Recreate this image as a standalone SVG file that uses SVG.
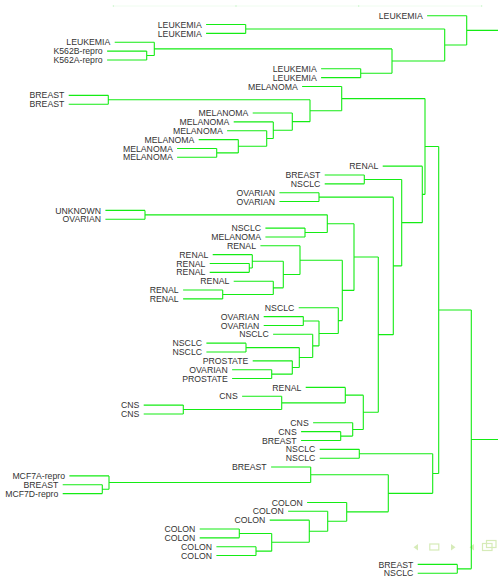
<svg xmlns="http://www.w3.org/2000/svg" width="498" height="576" viewBox="0 0 498 576">
<style>
text{font-family:"Liberation Sans",Arial,sans-serif;font-size:8.7px;fill:#333;text-anchor:end}
.c path{fill:none;stroke:#14ec14;stroke-width:1.1}
.nav{fill:none;stroke:#d6ebb8;stroke-width:1.2}
.navf{fill:#d6ebb8}
</style>
<rect width="498" height="576" fill="#fff"/>
<g id="topbar">
<line x1="113.3" y1="6" x2="481.7" y2="6" stroke="#effcef" stroke-width="1"/>
<rect x="112.8" y="5.5" width="1" height="1" fill="#a8f0a8"/>
<rect x="235.5" y="5.5" width="1" height="1" fill="#a8f0a8"/>
<rect x="358.2" y="5.5" width="1" height="1" fill="#a8f0a8"/>
<rect x="481.2" y="5.5" width="1" height="1" fill="#a8f0a8"/>
</g>
<g id="navigation">
<polygon class="navf" points="418,544 413.5,547.3 418,550.6"/>
<rect class="nav" x="429.8" y="544" width="9" height="6"/>
<polygon class="navf" points="451,544 455.5,547.3 451,550.6"/>
<polygon class="navf" points="474,544 469.5,547.3 474,550.6"/>
<rect class="nav" x="486.5" y="540.5" width="9.5" height="7"/>
<rect class="nav" x="482.5" y="543.5" width="9.5" height="7" fill="#fff"/>
</g>
<g id="connectors" class="c">
<path d="M427.1 15.7H466.7M206.1 24.55H245.7M206.1 33.4H245.7M114.7 42.25H154.3M107.1 51.1H146.7M107.1 59.95H146.7M321.1 68.8H360.7M321.1 77.65H360.7M302.1 86.5H341.7M68.7 95.35H108.3M68.7 104.2H108.3M252.7 113.05H292.3M233.7 121.9H273.3M227.1 130.75H266.7M198.7 139.6H238.3M177.1 148.45H216.7M177.1 157.3H216.7M382.7 166.15H422.3M324.7 175H364.3M324.7 183.85H364.3M279.4 192.7H319M279.4 201.55H319M105.4 210.4H145M105.4 219.25H145M265.4 228.1H305M265.4 236.95H305M260.4 245.8H300M212.7 254.65H252.3M209.7 263.5H249.3M209.7 272.35H249.3M233.7 281.2H273.3M183.1 290.05H222.7M183.1 298.9H222.7M298.7 307.75H338.3M263.7 316.6H303.3M263.7 325.45H303.3M273.1 334.3H312.7M206.4 343.15H246M206.4 352H246M252.7 360.85H292.3M232.1 369.7H271.7M232.1 378.55H271.7M305.7 387.4H345.3M242.1 396.25H281.7M143.7 405.1H183.3M143.7 413.95H183.3M313.1 422.8H352.7M301.1 431.65H340.7M301.1 440.5H340.7M319.7 449.35H359.3M319.7 458.2H359.3M271.1 467.05H310.7M69.4 475.9H109M62.7 484.75H102.3M62.7 493.6H102.3M307.1 502.45H346.7M288.1 511.3H327.7M269.7 520.15H309.3M199.7 529H239.3M199.7 537.85H239.3M216.4 546.7H256M216.4 555.55H256M417.7 564.4H457.3M417.7 573.25H457.3"/>
<path d="M245.7 24.55V33.4M245.7 28.98H444.7"/>
<path d="M146.7 51.1V59.95M146.7 55.53H154.3"/>
<path d="M154.3 42.25V55.53M154.3 48.89H392"/>
<path d="M360.7 68.8V77.65M360.7 73.23H392"/>
<path d="M392 48.89V73.23M392 61.06H444.7"/>
<path d="M444.7 28.98V61.06M444.7 45.02H466.7"/>
<path d="M466.7 15.7V45.02M466.7 30.36H498"/>
<path d="M108.3 95.35V104.2M108.3 99.78H310"/>
<path d="M216.7 148.45V157.3M216.7 152.88H238.3"/>
<path d="M238.3 139.6V152.88M238.3 146.24H266.7"/>
<path d="M266.7 130.75V146.24M266.7 138.5H273.3"/>
<path d="M273.3 121.9V138.5M273.3 130.2H292.3"/>
<path d="M292.3 113.05V130.2M292.3 121.63H310"/>
<path d="M310 99.78V121.63M310 110.7H341.7"/>
<path d="M341.7 86.5V110.7M341.7 98.6H425"/>
<path d="M364.3 175V183.85M364.3 179.43H401.7"/>
<path d="M319 192.7V201.55M319 197.13H393.3"/>
<path d="M145 210.4V219.25M145 214.83H327.3"/>
<path d="M305 228.1V236.95M305 232.53H327.3"/>
<path d="M327.3 214.83V232.53M327.3 223.68H354"/>
<path d="M249.3 263.5V272.35M249.3 267.93H252.3"/>
<path d="M252.3 254.65V267.93M252.3 261.29H283.3"/>
<path d="M222.7 290.05V298.9M222.7 294.48H273.3"/>
<path d="M273.3 281.2V294.48M273.3 287.84H283.3"/>
<path d="M283.3 261.29V287.84M283.3 274.57H300"/>
<path d="M300 245.8V274.57M300 260.18H342.3"/>
<path d="M303.3 316.6V325.45M303.3 321.03H319"/>
<path d="M246 343.15V352M246 347.58H299.3"/>
<path d="M271.7 369.7V378.55M271.7 374.13H292.3"/>
<path d="M292.3 360.85V374.13M292.3 367.49H299.3"/>
<path d="M299.3 347.58V367.49M299.3 357.53H312.7"/>
<path d="M312.7 334.3V357.53M312.7 345.92H319"/>
<path d="M319 321.03V345.92M319 333.47H338.3"/>
<path d="M338.3 307.75V333.47M338.3 320.61H342.3"/>
<path d="M342.3 260.18V320.61M342.3 290.4H354"/>
<path d="M354 223.68V290.4M354 257.04H378.3"/>
<path d="M183.3 405.1V413.95M183.3 409.53H281.7"/>
<path d="M281.7 396.25V409.53M281.7 402.89H345.3"/>
<path d="M345.3 387.4V402.89M345.3 395.14H363.3"/>
<path d="M340.7 431.65V440.5M340.7 436.08H352.7"/>
<path d="M352.7 422.8V436.08M352.7 429.44H363.3"/>
<path d="M363.3 395.14V429.44M363.3 412.29H378.3"/>
<path d="M378.3 257.04V412.29M378.3 334.67H393.3"/>
<path d="M393.3 197.13V334.67M393.3 265.9H401.7"/>
<path d="M401.7 179.43V265.9M401.7 222.66H422.3"/>
<path d="M422.3 166.15V222.66M422.3 194.4H425"/>
<path d="M425 98.6V194.4M425 146.5H438.7"/>
<path d="M359.3 449.35V458.2M359.3 453.78H432.7"/>
<path d="M102.3 484.75V493.6M102.3 489.18H109"/>
<path d="M109 475.9V489.18M109 482.54H310.7"/>
<path d="M310.7 467.05V482.54M310.7 474.8H388.3"/>
<path d="M256 546.7V555.55M256 551.13H271.7"/>
<path d="M239.3 529V537.85M239.3 533.43H271.7"/>
<path d="M271.7 533.43V551.13M271.7 542.28H309.3"/>
<path d="M309.3 520.15V542.28M309.3 531.21H327.7"/>
<path d="M327.7 511.3V531.21M327.7 521.26H346.7"/>
<path d="M346.7 502.45V521.26M346.7 511.86H388.3"/>
<path d="M388.3 474.8V511.86M388.3 493.33H432.7"/>
<path d="M432.7 453.78V493.33M432.7 473.55H438.7"/>
<path d="M438.7 146.5V473.55M438.7 310.03H471.3"/>
<path d="M457.3 564.4V573.25M457.3 568.83H471.3"/>
<path d="M471.3 310.03V568.83M471.3 439.43H498"/>
</g>
<g id="n1"><text x="422.7" y="18.8">LEUKEMIA</text></g>
<g id="n2"><text x="201.7" y="27.65">LEUKEMIA</text></g>
<g id="n3"><text x="201.7" y="36.5">LEUKEMIA</text></g>
<g id="n4"><text x="110.3" y="45.35">LEUKEMIA</text></g>
<g id="n5"><text x="102.7" y="54.2">K562B-repro</text></g>
<g id="n6"><text x="102.7" y="63.05">K562A-repro</text></g>
<g id="n7"><text x="316.7" y="71.9">LEUKEMIA</text></g>
<g id="n8"><text x="316.7" y="80.75">LEUKEMIA</text></g>
<g id="n9"><text x="297.7" y="89.6">MELANOMA</text></g>
<g id="n10"><text x="64.3" y="98.45">BREAST</text></g>
<g id="n11"><text x="64.3" y="107.3">BREAST</text></g>
<g id="n12"><text x="248.3" y="116.15">MELANOMA</text></g>
<g id="n13"><text x="229.3" y="125">MELANOMA</text></g>
<g id="n14"><text x="222.7" y="133.85">MELANOMA</text></g>
<g id="n15"><text x="194.3" y="142.7">MELANOMA</text></g>
<g id="n16"><text x="172.7" y="151.55">MELANOMA</text></g>
<g id="n17"><text x="172.7" y="160.4">MELANOMA</text></g>
<g id="n18"><text x="378.3" y="169.25">RENAL</text></g>
<g id="n19"><text x="320.3" y="178.1">BREAST</text></g>
<g id="n20"><text x="320.3" y="186.95">NSCLC</text></g>
<g id="n21"><text x="275" y="195.8">OVARIAN</text></g>
<g id="n22"><text x="275" y="204.65">OVARIAN</text></g>
<g id="n23"><text x="101" y="213.5">UNKNOWN</text></g>
<g id="n24"><text x="101" y="222.35">OVARIAN</text></g>
<g id="n25"><text x="261" y="231.2">NSCLC</text></g>
<g id="n26"><text x="261" y="240.05">MELANOMA</text></g>
<g id="n27"><text x="256" y="248.9">RENAL</text></g>
<g id="n28"><text x="208.3" y="257.75">RENAL</text></g>
<g id="n29"><text x="205.3" y="266.6">RENAL</text></g>
<g id="n30"><text x="205.3" y="275.45">RENAL</text></g>
<g id="n31"><text x="229.3" y="284.3">RENAL</text></g>
<g id="n32"><text x="178.7" y="293.15">RENAL</text></g>
<g id="n33"><text x="178.7" y="302">RENAL</text></g>
<g id="n34"><text x="294.3" y="310.85">NSCLC</text></g>
<g id="n35"><text x="259.3" y="319.7">OVARIAN</text></g>
<g id="n36"><text x="259.3" y="328.55">OVARIAN</text></g>
<g id="n37"><text x="268.7" y="337.4">NSCLC</text></g>
<g id="n38"><text x="202" y="346.25">NSCLC</text></g>
<g id="n39"><text x="202" y="355.1">NSCLC</text></g>
<g id="n40"><text x="248.3" y="363.95">PROSTATE</text></g>
<g id="n41"><text x="227.7" y="372.8">OVARIAN</text></g>
<g id="n42"><text x="227.7" y="381.65">PROSTATE</text></g>
<g id="n43"><text x="301.3" y="390.5">RENAL</text></g>
<g id="n44"><text x="237.7" y="399.35">CNS</text></g>
<g id="n45"><text x="139.3" y="408.2">CNS</text></g>
<g id="n46"><text x="139.3" y="417.05">CNS</text></g>
<g id="n47"><text x="308.7" y="425.9">CNS</text></g>
<g id="n48"><text x="296.7" y="434.75">CNS</text></g>
<g id="n49"><text x="296.7" y="443.6">BREAST</text></g>
<g id="n50"><text x="315.3" y="452.45">NSCLC</text></g>
<g id="n51"><text x="315.3" y="461.3">NSCLC</text></g>
<g id="n52"><text x="266.7" y="470.15">BREAST</text></g>
<g id="n53"><text x="65" y="479">MCF7A-repro</text></g>
<g id="n54"><text x="58.3" y="487.85">BREAST</text></g>
<g id="n55"><text x="58.3" y="496.7">MCF7D-repro</text></g>
<g id="n56"><text x="302.7" y="505.55">COLON</text></g>
<g id="n57"><text x="283.7" y="514.4">COLON</text></g>
<g id="n58"><text x="265.3" y="523.25">COLON</text></g>
<g id="n59"><text x="195.3" y="532.1">COLON</text></g>
<g id="n60"><text x="195.3" y="540.95">COLON</text></g>
<g id="n61"><text x="212" y="549.8">COLON</text></g>
<g id="n62"><text x="212" y="558.65">COLON</text></g>
<g id="n63"><text x="413.3" y="567.5">BREAST</text></g>
<g id="n64"><text x="413.3" y="576.35">NSCLC</text></g>
</svg>
